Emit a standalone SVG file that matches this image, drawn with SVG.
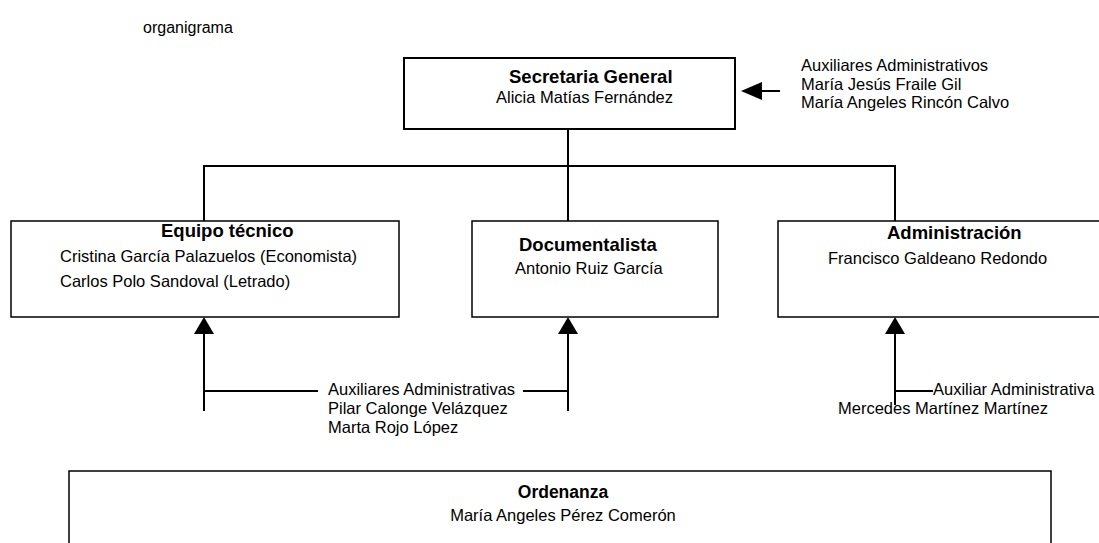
<svg xmlns="http://www.w3.org/2000/svg" width="1099" height="543" viewBox="0 0 1099 543">
<style>
text{font-family:"Liberation Sans",Arial,sans-serif;font-size:16.5px;fill:#000}
.t{font-weight:bold;font-size:18.5px}
.box{fill:#fff;stroke:#000;stroke-width:1.5}
.ln{stroke:#000;stroke-width:2;fill:none}
.ah{fill:#000}
</style>
<rect width="1099" height="543" fill="#fff"/>
<text x="143" y="33" style="font-size:16px">organigrama</text>
<g id="secretaria">
<rect class="box" x="404" y="58" width="331" height="71" style="stroke-width:2"/>
<text class="t" x="509" y="83">Secretaria General</text>
<text x="496" y="103">Alicia Matías Fernández</text>
</g>
<g id="aux-secretaria">
<text x="801" y="71">Auxiliares Administrativos</text>
<text x="801" y="90">María Jesús Fraile Gil</text>
<text x="801" y="108">María Angeles Rincón Calvo</text>
</g>
<g id="equipo">
<rect class="box" x="11" y="221" width="388" height="96"/>
<text class="t" x="161" y="237">Equipo técnico</text>
<text x="60" y="262">Cristina García Palazuelos (Economista)</text>
<text x="60" y="287">Carlos Polo Sandoval (Letrado)</text>
</g>
<g id="documentalista">
<rect class="box" x="472" y="221" width="246" height="96"/>
<text class="t" x="519" y="251">Documentalista</text>
<text x="515" y="274">Antonio Ruiz García</text>
</g>
<g id="administracion">
<rect class="box" x="778" y="221" width="340" height="96"/>
<text class="t" x="887" y="239">Administración</text>
<text x="828" y="264">Francisco Galdeano Redondo</text>
</g>
<g id="aux-equipo-doc">
<text x="328" y="395">Auxiliares Administrativas</text>
<text x="328" y="414">Pilar Calonge Velázquez</text>
<text x="328" y="433">Marta Rojo López</text>
</g>
<g id="aux-admin">
<text x="933" y="395">Auxiliar Administrativa</text>
<text x="838" y="414">Mercedes Martínez Martínez</text>
</g>
<g id="ordenanza">
<rect class="box" x="69" y="471" width="982" height="90"/>
<text class="t" x="563" y="498" text-anchor="middle" style="font-size:17.5px">Ordenanza</text>
<text x="563" y="521" text-anchor="middle">María Angeles Pérez Comerón</text>
</g>
<g id="connectors">
<path class="ln" d="M568 129V221M204 221V166H895V221"/>
<path class="ln" d="M762 91H780"/>
<polygon class="ah" points="741,91 762,82 762,100"/>
<path class="ln" d="M204 333V411M568 333V411M204 391H318M523 391H568M895 333V405M895 391H933"/>
<polygon class="ah" points="204,317 194,334 214,334"/>
<polygon class="ah" points="568,317 558,334 578,334"/>
<polygon class="ah" points="895,317 885,334 905,334"/>
</g>
</svg>
